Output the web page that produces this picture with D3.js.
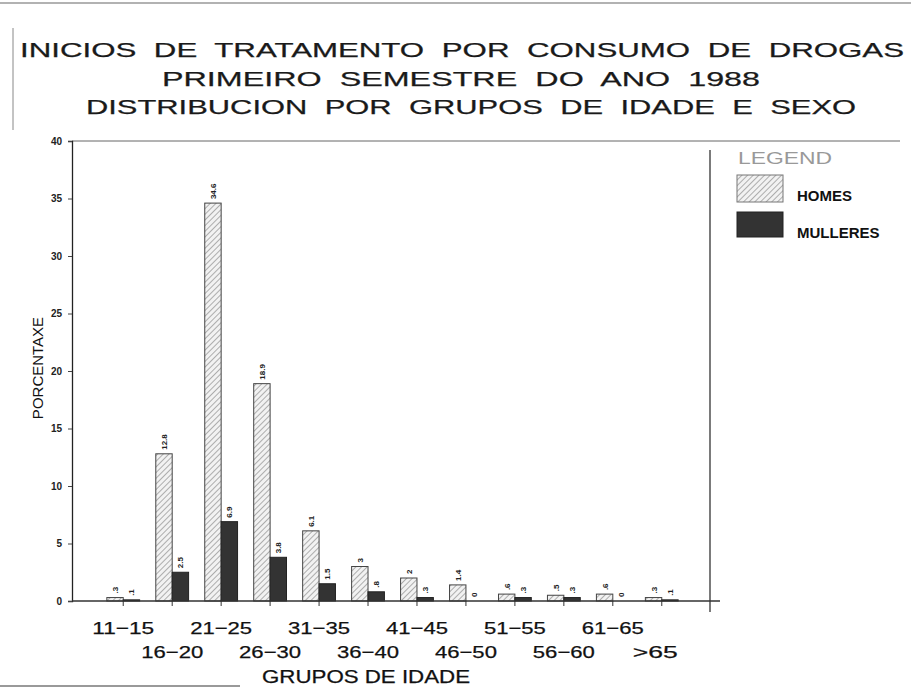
<!DOCTYPE html>
<html><head><meta charset="utf-8">
<script src="https://cdn.jsdelivr.net/npm/d3@7"></script>
<style>body{margin:0;background:#fff}svg{display:block}text{font-family:"Liberation Sans",Arial,sans-serif}</style>
</head><body>
<script>
const categories=["11-15","16-20","21-25","26-30","31-35","36-40","41-45","46-50","51-55","56-60","61-65",">65"];
const homes=[0.3,12.8,34.6,18.9,6.1,3.0,2.0,1.4,0.6,0.5,0.6,0.3];
const mulleres=[0.1,2.5,6.9,3.8,1.5,0.8,0.3,0,0.3,0.3,0,0.1];
const yTicks=[0,5,10,15,20,25,30,35,40];
const titleLines=["INICIOS DE TRATAMENTO POR CONSUMO DE DROGAS","PRIMEIRO SEMESTRE DO ANO 1988","DISTRIBUCION POR GRUPOS DE IDADE E SEXO"];
const seriesNames=["HOMES","MULLERES"];

const W=911,H=689;
const svg=d3.select("body").append("svg").attr("width",W).attr("height",H);
const defs=svg.append("defs");
const pat=defs.append("pattern").attr("id","hatch").attr("patternUnits","userSpaceOnUse")
  .attr("width",4).attr("height",4).attr("patternTransform","rotate(45)");
pat.append("rect").attr("width",4).attr("height",4).attr("fill","#f2f2f2");
pat.append("line").attr("x1",0).attr("y1",0).attr("x2",0).attr("y2",4).attr("stroke","#888").attr("stroke-width",1.3);

// page border lines
svg.append("line").attr("x1",0).attr("x2",W).attr("y1",3).attr("y2",3).attr("stroke","#999").attr("stroke-width",1.5);
svg.append("line").attr("x1",0).attr("x2",240).attr("y1",686).attr("y2",686).attr("stroke","#777").attr("stroke-width",1.5);
svg.append("line").attr("x1",13).attr("x2",13).attr("y1",28).attr("y2",130).attr("stroke","#888").attr("stroke-width",1);

// titles
const tSpec=[{y:57,x1:20,x2:904},{y:86,x1:162,x2:760},{y:114,x1:86,x2:856}];
svg.selectAll("text.title").data(titleLines).join("text").attr("class","title")
  .attr("x",(d,i)=>tSpec[i].x1).attr("y",(d,i)=>tSpec[i].y)
  .attr("textLength",(d,i)=>tSpec[i].x2-tSpec[i].x1).attr("lengthAdjust","spacingAndGlyphs")
  .attr("font-size",21).attr("fill","#1a1a1a").attr("stroke","#1a1a1a").attr("stroke-width",0.25)
  .attr("word-spacing",6).text(d=>d);

const x0=72,x1=710,yTop=141,yBot=601;
const x=d3.scaleBand().domain(categories).range([99,686]).paddingInner(0.33).paddingOuter(0.16);
const xs=d3.scaleBand().domain(seriesNames).range([0,x.bandwidth()]);
const y=d3.scaleLinear().domain([0,40]).range([yBot,yTop]);

// frame
svg.append("line").attr("x1",x0).attr("x2",900).attr("y1",yTop).attr("y2",yTop).attr("stroke","#666").attr("stroke-width",1);
svg.append("line").attr("x1",x1).attr("x2",x1).attr("y1",150).attr("y2",612).attr("stroke","#333").attr("stroke-width",1.3);

// y axis
const ya=svg.append("g").attr("transform",`translate(${x0},0)`)
  .call(d3.axisLeft(y).tickValues(yTicks).tickSize(4).tickPadding(6));
ya.select(".domain").attr("stroke","#222").attr("stroke-width",1.3);
ya.selectAll("text").attr("font-size",10).attr("font-weight","bold").attr("fill","#222").attr("font-family","Liberation Sans, Arial");
ya.selectAll(".tick line").attr("stroke","#444");

svg.append("text").attr("transform","translate(43,368) rotate(-90)").attr("text-anchor","middle")
  .attr("font-size",15).attr("fill","#111").text("PORCENTAXE");

// bars
const data=categories.map((c,i)=>({c,v:[homes[i],mulleres[i]]}));
const g=svg.append("g");
data.forEach(d=>{
  d.v.forEach((v,k)=>{
    const bx=x(d.c)+xs(seriesNames[k]);
    if(v>0) g.append("rect").attr("x",bx).attr("y",y(v)).attr("width",xs.bandwidth()).attr("height",y(0)-y(v))
      .attr("fill",k===0?"url(#hatch)":"#333").attr("stroke",k===0?"#444":"#222").attr("stroke-width",1);
    const lab=v===0?"0":(v<1?d3.format(".1f")(v).replace(/^0/,""):(Number.isInteger(v)?String(v):d3.format(".1f")(v)));
    g.append("text").attr("transform",`translate(${bx+xs.bandwidth()/2+3},${y(v)-4}) rotate(-90)`)
      .attr("font-size",8).attr("font-weight","bold").attr("fill","#222").text(lab);
  });
});

// x axis
const xa=svg.append("g").attr("transform",`translate(0,${yBot})`)
  .call(d3.axisBottom(x).tickSize(5).tickFormat(""));
xa.select(".domain").remove();
svg.append("line").attr("x1",x0).attr("x2",720).attr("y1",yBot).attr("y2",yBot).attr("stroke","#333").attr("stroke-width",1.3);
xa.selectAll(".tick line").attr("stroke","#333");
svg.selectAll("text.cat").data(categories).join("text").attr("class","cat")
  .attr("x",d=>x(d)+x.bandwidth()/2-(d.length===3?29:31)).attr("y",(d,i)=>i%2===0?634:658)
  .attr("textLength",d=>d.length===3?45:62).attr("lengthAdjust","spacingAndGlyphs")
  .attr("font-size",17).attr("fill","#111").attr("stroke","#111").attr("stroke-width",0.25)
  .text(d=>d.replace("-","\u2212"));
svg.append("text").attr("x",262).attr("y",683).attr("textLength",208).attr("lengthAdjust","spacingAndGlyphs")
  .attr("font-size",18).attr("fill","#111").attr("stroke","#111").attr("stroke-width",0.25).text("GRUPOS DE IDADE");

// legend
svg.append("text").attr("x",738).attr("y",164).attr("textLength",94).attr("lengthAdjust","spacingAndGlyphs")
  .attr("font-size",16).attr("fill","#999").text("LEGEND");
seriesNames.forEach((s,k)=>{
  const ly=[175,212][k];
  svg.append("rect").attr("x",737).attr("y",ly).attr("width",46).attr("height",k===0?27:25)
    .attr("fill",k===0?"url(#hatch)":"#333").attr("stroke",k===0?"#777":"#222");
  svg.append("text").attr("x",797).attr("y",ly+26).attr("font-size",15).attr("font-weight","bold").attr("fill","#111").text(s);
});
</script>
</body></html>
